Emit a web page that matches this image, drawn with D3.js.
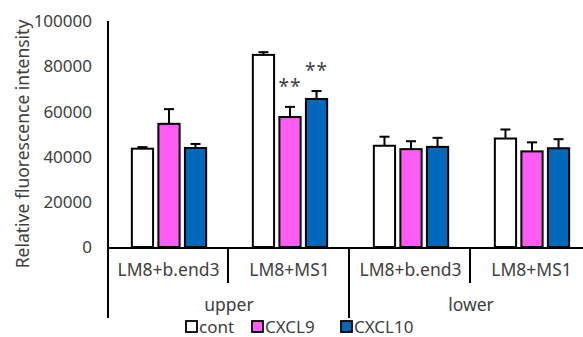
<!DOCTYPE html>
<html><head><meta charset="utf-8">
<script src="https://cdn.jsdelivr.net/npm/d3@7"></script>
<style>
html,body{margin:0;padding:0;background:#fff;}
svg{display:block;}
text{font-family:"Noto Sans","DejaVu Sans",sans-serif;fill:#404040;}
</style></head>
<body>
<script>
const categories = ["LM8+b.end3","LM8+MS1","LM8+b.end3","LM8+MS1"];
const positions = ["upper","lower"];
const seriesNames = ["cont","CXCL9","CXCL10"];
const seriesColors = ["#ffffff","#ff5cf4","#0068b8"];
const contValues = [43500, 85000, 44800, 48000];
const contErrors = [700, 1200, 4000, 4000];
const cxcl9Values = [54500, 57500, 43300, 42300];
const cxcl9Errors = [6500, 4500, 3500, 4000];
const cxcl10Values = [43800, 65500, 44300, 43700];
const cxcl10Errors = [1800, 3500, 4000, 4000];
const yTicks = [0, 20000, 40000, 60000, 80000, 100000];
const stars = [{cat:1, series:1, label:"**"},{cat:1, series:2, label:"**"}];

const W = 583, H = 337;
const svg = d3.select("body").append("svg").attr("width", W).attr("height", H);

const values = [contValues, cxcl9Values, cxcl10Values];
const errors = [contErrors, cxcl9Errors, cxcl10Errors];

const y = d3.scaleLinear().domain([0, 100000]).range([247, 21]);
const x0 = d3.scaleBand().domain(d3.range(categories.length)).range([107, 591]).padding(0);
const x1 = d3.scaleBand().domain(d3.range(seriesNames.length)).range([1.5, x0.bandwidth() + 1.5]).paddingInner(0.2).paddingOuter(0.88);

// y tick labels
svg.append("g").selectAll("text").data(yTicks).join("text")
  .attr("x", 92).attr("y", d => y(d)).attr("dy", "0.36em")
  .attr("text-anchor", "end").attr("font-size", 17).text(d => d);

// y title
svg.append("text").attr("transform", `translate(23,144) rotate(-90)`)
  .attr("text-anchor", "middle").attr("font-size", 17.5).attr("dy", "0.35em")
  .text("Relative fluorescence intensity");

// bars
const data = [];
values.forEach((vals, s) => vals.forEach((v, c) => data.push({s, c, v, e: errors[s][c]})));

const g = svg.append("g");
g.selectAll("line.err").data(data).join("line").attr("class","err")
  .attr("x1", d => x0(d.c) + x1(d.s) + x1.bandwidth()/2)
  .attr("x2", d => x0(d.c) + x1(d.s) + x1.bandwidth()/2)
  .attr("y1", d => y(d.v)).attr("y2", d => y(d.v + d.e))
  .attr("stroke", "#000").attr("stroke-width", 2);
g.selectAll("line.cap").data(data).join("line").attr("class","cap")
  .attr("x1", d => x0(d.c) + x1(d.s) + x1.bandwidth()/2 - 5)
  .attr("x2", d => x0(d.c) + x1(d.s) + x1.bandwidth()/2 + 5)
  .attr("y1", d => y(d.v + d.e)).attr("y2", d => y(d.v + d.e))
  .attr("stroke", "#000").attr("stroke-width", 2);
g.selectAll("rect").data(data).join("rect")
  .attr("x", d => x0(d.c) + x1(d.s)).attr("width", x1.bandwidth())
  .attr("y", d => y(d.v)).attr("height", d => y(0) - y(d.v))
  .attr("fill", d => seriesColors[d.s]).attr("stroke", "#000").attr("stroke-width", 2);

// significance stars
svg.append("g").selectAll("text").data(stars).join("text")
  .attr("x", d => x0(d.cat) + x1(d.series) + x1.bandwidth()/2)
  .attr("y", d => y(values[d.series][d.cat] + errors[d.series][d.cat]) - 14)
  .attr("text-anchor", "middle").attr("font-size", 19).attr("letter-spacing", 1).attr("fill", "#666")
  .text(d => d.label);

// axes lines
const axis = svg.append("g").attr("stroke", "#000").attr("stroke-width", 2);
axis.append("line").attr("x1", 108).attr("x2", 108).attr("y1", y(100000)).attr("y2", 318);
axis.append("line").attr("x1", 107).attr("x2", W).attr("y1", y(0) + 1).attr("y2", y(0) + 1);
axis.selectAll("line.sep").data(d3.range(1, categories.length)).join("line").attr("class","sep")
  .attr("x1", d => x0(d)).attr("x2", d => x0(d))
  .attr("y1", y(0) + 1).attr("y2", d => d === 2 ? 318 : 283);

// category labels
svg.append("g").selectAll("text").data(categories).join("text")
  .attr("x", (d, i) => x0(i) + x0.bandwidth()/2 + 1).attr("y", 276)
  .attr("text-anchor", "middle").attr("font-size", 17.5).text(d => d);

// position labels
svg.append("g").selectAll("text").data(positions).join("text")
  .attr("x", (d, i) => (x0(i*2) + x0(i*2+1) + x0.bandwidth())/2 + 1).attr("y", 311)
  .attr("text-anchor", "middle").attr("font-size", 17.5).text(d => d);

// legend
const legendX = [186, 252, 341];
const lg = svg.append("g").selectAll("g").data(seriesNames).join("g")
  .attr("transform", (d, i) => `translate(${legendX[i]},321)`);
lg.append("rect").attr("x", 0).attr("y", 0).attr("width", 11).attr("height", 11)
  .attr("fill", (d, i) => seriesColors[i]).attr("stroke", "#000").attr("stroke-width", 1.8);
lg.append("text").attr("x", 13).attr("y", 11.5).attr("font-size", 17).text(d => d);
</script>
</body></html>
